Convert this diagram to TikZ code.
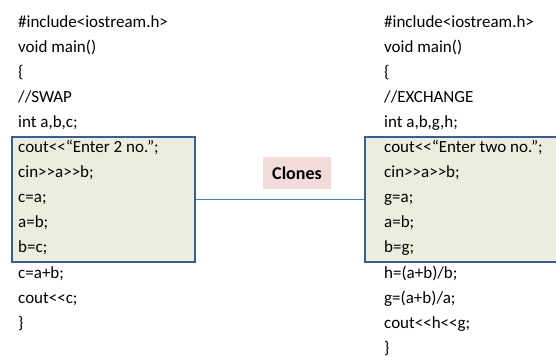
\documentclass[tikz,border=0pt]{standalone}
\usepackage{fontspec}
\setmainfont{Carlito}[Ligatures=TeXOff]
\definecolor{boxfill}{HTML}{EBEEDE}
\definecolor{boxline}{HTML}{3B5E8C}
\definecolor{linkline}{HTML}{4A7EBB}
\definecolor{labelfill}{HTML}{F2DCDB}
\tikzset{
  codebox/.style={draw=boxline, line width=2pt, fill=boxfill, minimum height=125pt, inner sep=0pt},
  codeline/.style={anchor=base west, inner sep=0pt, font=\fontsize{17}{20}\selectfont},
  clonelabel/.style={fill=labelfill, minimum width=68pt, minimum height=32pt, inner sep=0pt, font=\fontsize{18}{20}\selectfont\bfseries},
  link/.style={draw=linkline, line width=0.9pt}
}
\begin{document}
\begin{tikzpicture}[x=1pt,y=1pt]
\useasboundingbox (0,0) rectangle (556,356);
\fill[white] (0,0) rectangle (556,356);
\clip (0,0) rectangle (556,356);
\node[codebox, minimum width=183pt] (LB) at (103.5,156.5) {};
\node[codebox, minimum width=215pt] (RB) at (472.5,156.5) {};
\draw[link] (LB.east) -- (RB.west);
\node[clonelabel] (CL) at (297,183) {Clones};
\foreach \t [count=\i from 0] in {{\#include<iostream.h>},{void main()},{\{},{//SWAP},{int a,b,c;},{cout<<“Enter 2 no.”;},{cin>>a>>b;},{c=a;},{a=b;},{b=c;},{c=a+b;},{cout<<c;},{\}}}
  \node[codeline] (L\i) at (18,{356-28-25*\i}) {\t};
\foreach \t [count=\i from 0] in {{\#include<iostream.h>},{void main()},{\{},{//EXCHANGE},{int a,b,g,h;},{cout<<“Enter two no.”;},{cin>>a>>b;},{g=a;},{a=b;},{b=g;},{h=(a+b)/b;},{g=(a+b)/a;},{cout<<h<<g;},{\}}}
  \node[codeline] (R\i) at (384,{356-28-25*\i}) {\t};
\end{tikzpicture}
\end{document}
